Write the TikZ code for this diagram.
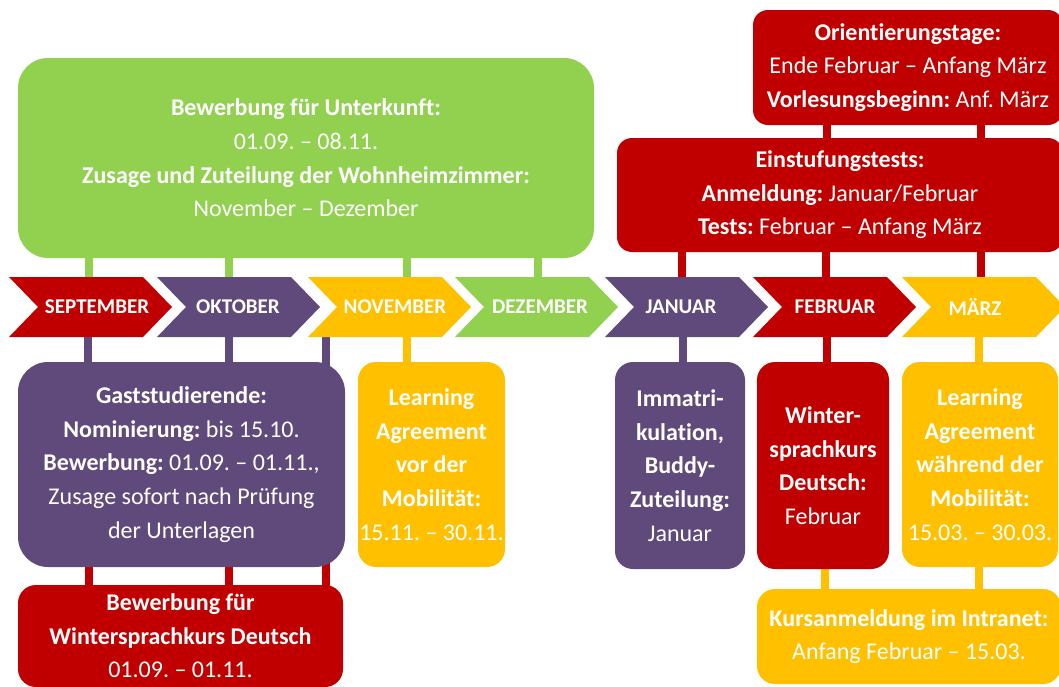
\documentclass[tikz,border=0pt]{standalone}
\usepackage{fontspec}
\setmainfont{Carlito}[Ligatures={NoCommon}]
\frenchspacing
\usetikzlibrary{backgrounds}
\definecolor{cred}{HTML}{C00000}
\definecolor{cpurple}{HTML}{604A7B}
\definecolor{cyellow}{HTML}{FFC000}
\definecolor{cgreen}{HTML}{92D050}
\newcommand\mybodyfont{\fontsize{24}{33.6}\selectfont}
\newcommand\monthchev[5]{%
  \fill[#2] (#1,277) -- ++(134,0) -- ++(29,30) -- ++(-29,30) -- ++(-134,0) -- ++(29,-30) -- cycle;
  \node[chevlabel] (#3) at (#4,307) {#5};}
\tikzset{
  box/.style={rectangle, rounded corners=18pt, text=white, align=center, inner sep=0pt, font=\mybodyfont},
  chevlabel/.style={rectangle, text=white, inner sep=0pt, minimum height=60pt, font=\fontsize{21}{25}\selectfont\bfseries},
  conn/.style={line width=8.5pt, shorten <=-5pt, shorten >=-5pt}
}
\begin{document}
\begin{tikzpicture}[x=1pt,y=-1pt]
\useasboundingbox (0,0) rectangle (1059,686);
\clip (0,0) rectangle (1059,686);
% top boxes
\node[box, fill=cgreen, minimum width=576pt, minimum height=200pt, rounded corners=30pt] (acc) at (306,158)
  {\textbf{Bewerbung für Unterkunft:}\\ 01.09. – 08.11.\\ \textbf{Zusage und Zuteilung der Wohnheimzimmer:}\\ November – Dezember};
\node[box, fill=cred, minimum width=310pt, minimum height=115pt, rounded corners=15pt] (ori) at (908,67.5)
  {\textbf{Orientierungstage:}\\ Ende Februar – Anfang März\\ \textbf{Vorlesungsbeginn:} Anf. März};
\node[box, fill=cred, minimum width=446pt, minimum height=114pt, rounded corners=15pt] (ein) at (840,195)
  {\textbf{Einstufungstests:}\\ \textbf{Anmeldung:} Januar/Februar\\ \textbf{Tests:} Februar – Anfang März};
% chevrons
\monthchev{9}{cred}{sep}{97}{SEPTEMBER}
\monthchev{157}{cpurple}{okt}{238}{OKTOBER}
\monthchev{308}{cyellow}{nov}{395}{NOVEMBER}
\monthchev{455}{cgreen}{dez}{540}{DEZEMBER}
\monthchev{605}{cpurple}{jan}{681}{JANUAR}
\monthchev{753}{cred}{feb}{835}{FEBRUAR}
\monthchev{902}{cyellow}{mar}{975}{MÄRZ}
% lower boxes
\node[box, fill=cpurple, minimum width=327pt, minimum height=205pt, rounded corners=30pt] (gast) at (181.5,464.5)
  {\textbf{Gaststudierende:}\\ \textbf{Nominierung:} bis 15.10.\\ \textbf{Bewerbung:} 01.09. – 01.11.,\\ Zusage sofort nach Prüfung\\ der Unterlagen};
\node[box, fill=cyellow, minimum width=147pt, minimum height=205pt] (lanov) at (431.5,464.5)
  {\textbf{Learning}\\ \textbf{Agreement}\\ \textbf{vor der}\\ \textbf{Mobilität:}\\ 15.11. – 30.11.};
\node[box, fill=cpurple, minimum width=130pt, minimum height=207pt] (imm) at (680,465.5)
  {\textbf{Immatri-}\\ \textbf{kulation,}\\ \textbf{Buddy-}\\ \textbf{Zuteilung:}\\ Januar};
\node[box, fill=cred, minimum width=132pt, minimum height=207pt] (win) at (823,465.5)
  {\textbf{Winter-}\\ \textbf{sprachkurs}\\ \textbf{Deutsch:}\\ Februar};
\node[box, fill=cyellow, minimum width=156pt, minimum height=205pt] (lamar) at (980,464.5)
  {\textbf{Learning}\\ \textbf{Agreement}\\ \textbf{während der}\\ \textbf{Mobilität:}\\ 15.03. – 30.03.};
\node[box, fill=cred, minimum width=325pt, minimum height=102pt] (wsk) at (180.5,636)
  {\textbf{Bewerbung für}\\ \textbf{Wintersprachkurs Deutsch}\\ 01.09. – 01.11.};
\node[box, fill=cyellow, minimum width=304pt, minimum height=95pt] (kurs) at (909,636.5)
  {\textbf{Kursanmeldung im Intranet:}\\ Anfang Februar – 15.03.};
% connectors
\begin{pgfonlayer}{background}
\draw[conn, cgreen] (acc.south -| 89,0) -- (sep.north -| 89,0);
\draw[conn, cgreen] (acc.south -| 229,0) -- (okt.north -| 229,0);
\draw[conn, cgreen] (acc.south -| 407,0) -- (nov.north -| 407,0);
\draw[conn, cgreen] (acc.south -| 538,0) -- (dez.north -| 538,0);
\draw[conn, cred] (ori.south -| 827,0) -- (ein.north -| 827,0);
\draw[conn, cred] (ori.south -| 981,0) -- (ein.north -| 981,0);
\draw[conn, cred] (ein.south -| 682,0) -- (jan.north -| 682,0);
\draw[conn, cred] (ein.south -| 826,0) -- (feb.north -| 826,0);
\draw[conn, cred] (ein.south -| 981,0) -- (mar.north -| 981,0);
\draw[conn, cpurple] (sep.south -| 88,0) -- (gast.north -| 88,0);
\draw[conn, cpurple] (okt.south -| 229,0) -- (gast.north -| 229,0);
\draw[conn, cpurple] (nov.south -| 326,0) -- (gast.north -| 326,0);
\draw[conn, cyellow] (nov.south -| 407,0) -- (lanov.north -| 407,0);
\draw[conn, cpurple] (jan.south -| 683,0) -- (imm.north -| 683,0);
\draw[conn, cred] (feb.south -| 827,0) -- (win.north -| 827,0);
\draw[conn, cyellow] (mar.south -| 979,0) -- (lamar.north -| 979,0);
\draw[conn, cred] (gast.south -| 89,0) -- (wsk.north -| 89,0);
\draw[conn, cred] (gast.south -| 229,0) -- (wsk.north -| 229,0);
\draw[conn, cred] (gast.south -| 326,0) -- (wsk.north -| 326,0);
\draw[conn, cyellow] (win.south -| 825,0) -- (kurs.north -| 825,0);
\draw[conn, cyellow] (lamar.south -| 979,0) -- (kurs.north -| 979,0);
\end{pgfonlayer}
\end{tikzpicture}
\end{document}
